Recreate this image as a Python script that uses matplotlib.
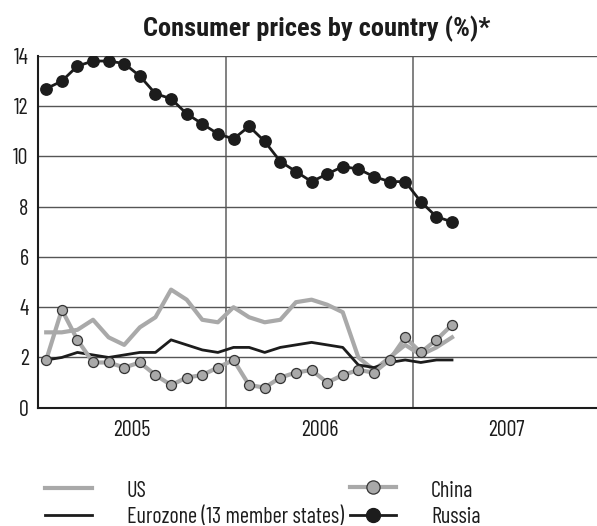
import matplotlib
matplotlib.use("Agg")
import matplotlib.pyplot as plt
from matplotlib.lines import Line2D
from matplotlib.font_manager import FontProperties, findfont
from matplotlib.textpath import TextPath
import pandas as pd

# ---- data -------------------------------------------------------------
months = pd.date_range('2005-01-01', periods=27, freq='MS')
us = [3.0, 3.0, 3.1, 3.5, 2.8, 2.5, 3.2, 3.6, 4.7, 4.3, 3.5, 3.4,
      4.0, 3.6, 3.4, 3.5, 4.2, 4.3, 4.1, 3.8, 2.0, 1.5, 2.0, 2.5,
      2.1, 2.4, 2.8]
eurozone = [1.9, 2.0, 2.2, 2.1, 2.0, 2.1, 2.2, 2.2, 2.7, 2.5, 2.3, 2.2,
            2.4, 2.4, 2.2, 2.4, 2.5, 2.6, 2.5, 2.4, 1.7, 1.6, 1.8, 1.9,
            1.8, 1.9, 1.9]
china = [1.9, 3.9, 2.7, 1.8, 1.8, 1.6, 1.8, 1.3, 0.9, 1.2, 1.3, 1.6,
         1.9, 0.9, 0.8, 1.2, 1.4, 1.5, 1.0, 1.3, 1.5, 1.4, 1.9, 2.8,
         2.2, 2.7, 3.3]
russia = [12.7, 13.0, 13.6, 13.8, 13.8, 13.7, 13.2, 12.5, 12.3, 11.7, 11.3, 10.9,
          10.7, 11.2, 10.6, 9.8, 9.4, 9.0, 9.3, 9.6, 9.5, 9.2, 9.0, 9.0,
          8.2, 7.6, 7.4]
year_labels = ['2005', '2006', '2007']
y_ticks = [0, 2, 4, 6, 8, 10, 12, 14]
title = 'Consumer prices by country (%)*'
series_names = ['US', 'Eurozone (13 member states)', 'China', 'Russia']

# ---- font choice: a condensed sans close to the reference proportions --
candidates = ['Sofia Sans Condensed', 'Barlow Condensed', 'PT Sans Narrow',
              'Archivo Narrow', 'Fira Sans Extra Condensed', 'Sofia Sans Extra Condensed',
              'Encode Sans Condensed', 'IBM Plex Sans Condensed', 'Pragati Narrow',
              'Roboto Condensed']
TARGET = 208.0 / 15.0
best, best_err, best_cap = None, 1e9, 0.7
for name in candidates:
    fp = FontProperties(family=name)
    try:
        findfont(fp, fallback_to_default=False)
    except Exception:
        continue
    w = TextPath((0, 0), series_names[1], size=100, prop=fp).get_extents().width
    h = TextPath((0, 0), 'H', size=100, prop=fp).get_extents().height
    err = abs(w / h - TARGET)
    if err < best_err:
        best, best_err, best_cap = name, err, h / 100.0
BODY = best or 'DejaVu Sans'
plt.rcParams['font.family'] = [BODY, 'DejaVu Sans']
FS = 15.5 / best_cap * 0.72  # cap height ~15.5 px

# ---- styling ----------------------------------------------------------
GRAY = '#a9a9a9'
BLACK = '#1c1c1c'
W, H = 597, 526

x = months.year + (months.month - 1 + 0.5) / 12.0

fig = plt.figure(figsize=(W / 100, H / 100), dpi=100)
ax = fig.add_axes([38.4 / W, 118.3 / H, (600.3 - 38.4) / W, (470 - 118.3) / H])

ax.plot(x, us, color=GRAY, lw=3.0, zorder=3)
ax.plot(x, eurozone, color=BLACK, lw=2.0, zorder=4)
ax.plot(x, china, color=GRAY, lw=3.0, marker='o', ms=7.2,
        markerfacecolor=GRAY, markeredgecolor='#333333', markeredgewidth=0.9, zorder=5)
ax.plot(x, russia, color=BLACK, lw=2.0, marker='o', ms=8.2,
        markerfacecolor=BLACK, markeredgecolor=BLACK, zorder=6)

ax.set_xlim(2005, 2008)
ax.set_ylim(0, 14)
ax.set_yticks(y_ticks)
ax.set_yticklabels([str(v) for v in y_ticks])
ax.set_xticks([int(y) + 0.5 for y in year_labels])
ax.set_xticklabels(year_labels)
ax.set_xticks([2006, 2007], minor=True)
ax.tick_params(axis='both', which='both', length=0, labelsize=FS, colors=BLACK)
ax.tick_params(axis='y', pad=7)
ax.tick_params(axis='x', pad=9)

ax.grid(axis='y', which='major', color='#555555', lw=1.0, zorder=1)
ax.grid(axis='x', which='minor', color='#777777', lw=1.3, zorder=1)
ax.grid(axis='x', which='major', visible=False)

for s in ['top', 'right']:
    ax.spines[s].set_visible(False)
for s in ['left', 'bottom']:
    ax.spines[s].set_color(BLACK)
    ax.spines[s].set_linewidth(1.5)

fig.text(317 / W, 1 - 36.7 / H, title, ha='center', va='baseline',
         fontsize=19, fontweight='bold', color=BLACK,
         family=['Roboto Condensed', BODY, 'DejaVu Sans'])

# ---- legend (manual layout) -------------------------------------------
lax = fig.add_axes([0, 0, 1, 1], facecolor='none')
lax.set_xlim(0, W)
lax.set_ylim(H, 0)
lax.axis('off')
styles = [
    dict(color=GRAY, lw=3.0),
    dict(color=BLACK, lw=2.0),
    dict(color=GRAY, lw=3.0, marker='o', ms=9.5, mfc=GRAY, mec='#333333', mew=0.9),
    dict(color=BLACK, lw=2.0, marker='o', ms=10, mfc=BLACK, mec=BLACK, mew=1.0),
]
# (key x0, key x1, key y, text x, text baseline)
pos = [(45, 92, 488, 127, 497), (45, 92, 515, 127, 523),
       (350, 396, 487, 431, 497), (350, 396, 515, 431, 523)]
for name, st, (x0, x1, ky, tx, ty) in zip(series_names, styles, pos):
    lax.add_line(Line2D([x0, x1], [ky, ky], color=st['color'], lw=st['lw']))
    if 'marker' in st:
        lax.add_line(Line2D([(x0 + x1) / 2], [ky], linestyle='none', marker='o',
                            ms=st['ms'], mfc=st['mfc'], mec=st['mec'], mew=st['mew']))
    lax.text(tx, ty, name, ha='left', va='baseline', fontsize=FS, color=BLACK)

fig.savefig('out.png', dpi=100)
